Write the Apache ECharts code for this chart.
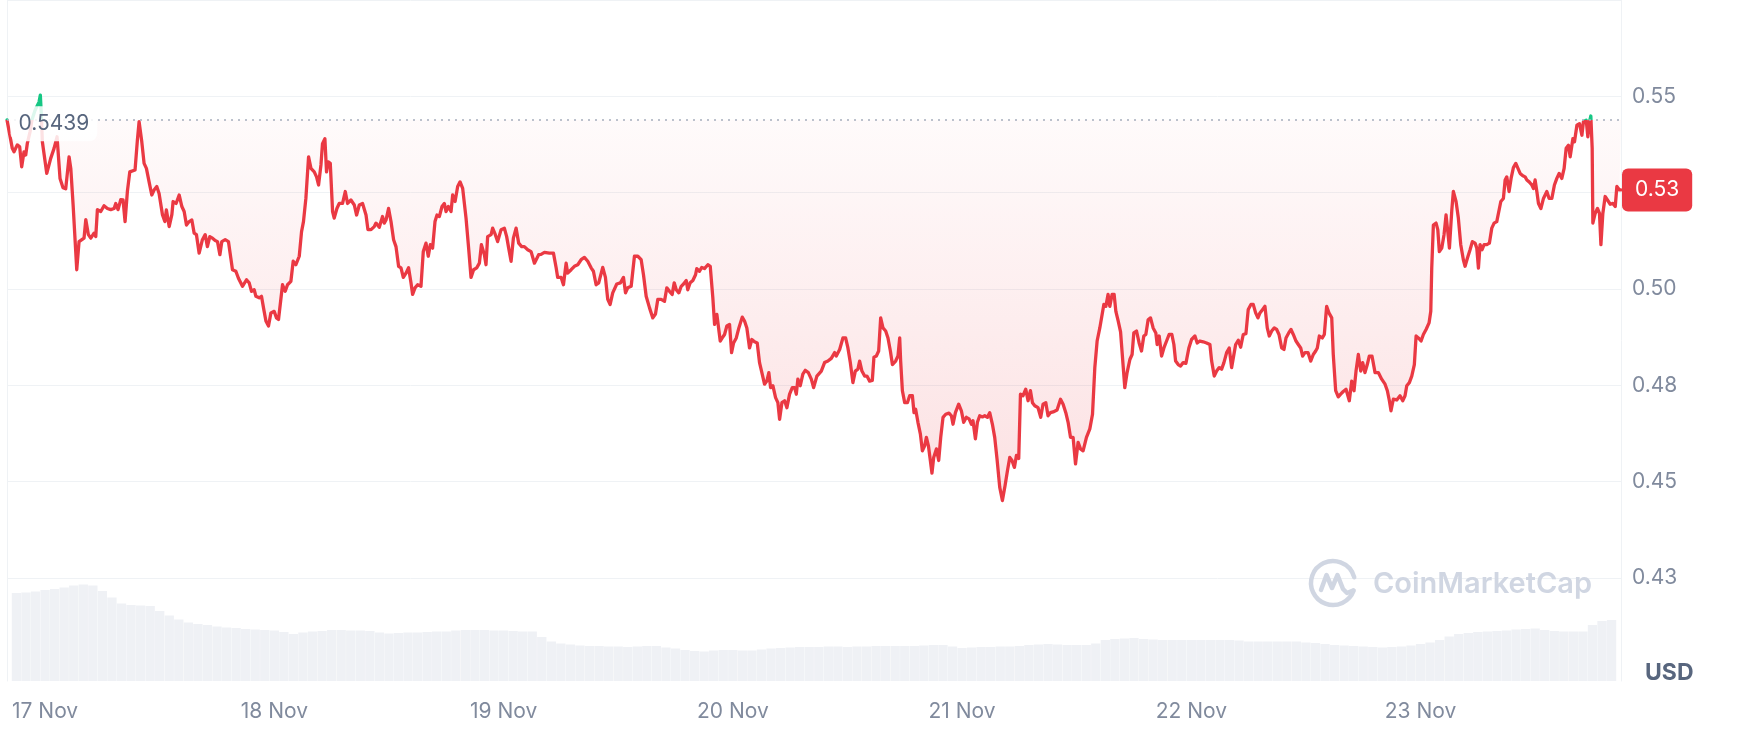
<!DOCTYPE html>
<html><head><meta charset="utf-8">
<script src="https://cdn.jsdelivr.net/npm/echarts@6/dist/echarts.min.js"></script>
<style>html,body{margin:0;padding:0;background:#fff;}#chart{width:1741px;height:756px;}</style>
</head><body><div id="chart"></div>
<script>
// ---- data ----
const startTime = [2023, 10, 16, 20, 30]; // 16 Nov 20:30 (local)
const hoursFromStart = [0,0.55,0.73,1.07,1.32,1.53,1.77,1.95,2.11,2.4,2.6,2.92,3.33,3.47,3.57,3.68,4.14,4.55,4.9,5.21,5.52,5.83,6.11,6.46,6.64,6.88,7.26,7.5,8.02,8.2,8.47,8.72,9.06,9.24,9.41,9.76,10.1,10.45,10.8,11.15,11.32,11.56,11.84,12.08,12.29,12.53,12.78,13.33,13.57,13.75,14.03,14.27,14.51,14.79,15.07,15.31,15.59,15.83,16.18,16.43,16.59,16.88,17.16,17.29,17.6,17.92,18.2,18.44,18.68,18.96,19.24,19.48,19.72,20,20.34,20.63,20.86,21.11,21.39,21.67,21.91,22.16,22.36,22.71,23.05,23.3,23.47,23.82,24.09,24.51,24.93,25.21,25.45,25.73,25.91,26.25,26.49,26.7,26.95,27.22,27.47,27.81,28.05,28.26,28.68,28.96,29.2,29.55,29.79,30.07,30.42,30.66,30.86,31.11,31.39,31.64,31.98,32.22,32.43,32.68,32.84,33.09,33.26,33.44,33.65,33.89,34.06,34.34,34.58,34.93,35.21,35.45,35.8,36.15,36.39,36.67,37.01,37.37,37.57,37.89,38.23,38.41,38.75,39.09,39.27,39.45,39.72,39.97,40.24,40.49,40.76,41.01,41.25,41.53,41.8,42.05,42.22,42.47,42.74,43.09,43.33,43.61,43.85,44.06,44.3,44.55,44.76,45,45.28,45.52,45.7,45.94,46.22,46.39,46.64,46.91,47.16,47.43,47.78,48.05,48.3,48.57,48.89,49.17,49.38,49.69,49.86,50.03,50.39,50.55,50.83,51.07,51.43,51.77,52.01,52.22,52.47,52.71,52.99,53.26,53.57,53.85,54.2,54.55,54.9,55.07,55.34,55.59,55.94,56.11,56.46,56.88,57.16,57.32,57.68,57.92,58.2,58.36,58.72,59.06,59.41,59.76,60.1,60.45,60.8,61.04,61.32,61.59,62.01,62.29,62.53,62.78,63.05,63.47,63.85,64.17,64.38,64.61,64.97,65.31,65.66,66.01,66.25,66.53,66.88,67.22,67.5,67.74,68.09,68.44,68.68,68.96,69.24,69.45,69.66,69.93,70.18,70.42,70.7,70.86,71.11,71.39,71.67,71.8,72.08,72.32,72.6,72.95,73.2,73.47,73.65,73.89,74.09,74.24,74.45,74.69,74.93,75.21,75.42,75.63,75.91,76.18,76.53,76.77,77.01,77.29,77.53,77.81,78.09,78.33,78.61,78.85,79.09,79.3,79.48,79.72,80,80.24,80.42,80.66,80.94,81.18,81.46,81.74,81.98,82.16,82.32,82.57,82.84,83.09,83.41,83.72,83.96,84.3,84.76,85.1,85.45,85.8,86.15,86.32,86.67,87.01,87.29,87.53,87.78,88.05,88.3,88.57,88.75,88.99,89.27,89.51,89.79,90.07,90.24,90.49,90.73,90.94,91.18,91.46,91.7,91.95,92.16,92.5,92.74,92.92,93.02,93.2,93.44,93.72,93.96,94.24,94.41,94.58,94.82,95.07,95.28,95.52,95.7,95.91,96.11,96.28,96.46,96.74,96.98,97.19,97.43,97.71,98.05,98.3,98.47,98.72,99.06,99.34,99.58,99.86,100.14,100.39,100.55,100.8,101.01,101.25,101.53,101.77,102.05,102.29,102.57,102.81,103.05,103.33,103.61,103.89,104.14,104.38,104.61,104.86,105.07,105.31,105.49,105.76,106.04,106.28,106.53,106.74,106.98,107.32,107.6,107.84,108.13,108.36,108.61,108.89,109.3,109.66,109.93,110.21,110.45,110.7,110.97,111.22,111.49,111.74,112.01,112.36,112.71,112.99,113.23,113.47,113.75,113.93,114.17,114.38,114.61,114.79,115.03,115.24,115.42,115.66,115.91,116.11,116.35,116.59,116.88,117.11,117.29,117.57,117.84,118.09,118.33,118.54,118.78,119.03,119.3,119.58,119.72,119.93,120.18,120.42,120.7,120.97,121.25,121.46,121.64,121.91,122.16,122.43,122.71,123.02,123.3,123.65,123.89,124.17,124.51,124.86,125.21,125.39,125.66,125.91,126.18,126.43,126.67,126.95,127.22,127.47,127.64,127.89,128.16,128.41,128.68,128.96,129.2,129.48,129.72,129.97,130.21,130.42,130.7,130.94,131.18,131.39,131.64,131.91,132.16,132.4,132.68,132.92,133.13,133.41,133.65,133.89,134.17,134.41,134.66,134.86,135.1,135.42,135.7,135.97,136.22,136.39,136.6,136.91,137.12,137.36,137.6,137.89,138.05,138.3,138.57,138.82,139.09,139.38,139.55,139.72,139.97,140.21,140.42,140.66,140.91,141.11,141.35,141.59,141.8,142.08,142.4,142.74,143.09,143.44,143.68,143.89,144.06,144.3,144.66,145,145.28,145.52,145.7,145.97,146.22,146.49,146.67,146.91,147.19,147.43,147.71,148.02,148.2,148.3,148.47,148.75,148.93,149.09,149.34,149.58,149.79,149.97,150.14,150.39,150.55,150.83,151.07,151.32,151.59,151.77,152.01,152.29,152.53,152.81,152.99,153.16,153.33,153.54,153.75,154.03,154.3,154.55,154.79,155.07,155.24,155.49,155.76,155.94,156.11,156.35,156.56,156.8,157.05,157.22,157.5,157.78,158.02,158.2,158.44,158.72,158.89,159.06,159.24,159.41,159.66,159.93,160.28,160.52,160.8,161.07,161.32,161.56,161.84,162.08,162.29,162.53,162.71,162.99,163.16,163.41,163.68,163.93,164.09,164.38,164.55,164.72,164.86,165,165.07,165.31,165.55,165.76,165.91,166.11,166.35,166.59,166.88,167.16,167.4,167.57,167.84,168];
const prices = [0.5439,0.5365,0.5356,0.5374,0.5369,0.5317,0.5356,0.5348,0.5377,0.5408,0.5439,0.5464,0.5485,0.5503,0.5454,0.5382,0.5300,0.5339,0.5365,0.5395,0.5287,0.5263,0.5260,0.5343,0.5313,0.5219,0.5050,0.5123,0.5132,0.5180,0.5141,0.5132,0.5145,0.5136,0.5206,0.5201,0.5216,0.5209,0.5206,0.5209,0.5222,0.5206,0.5232,0.5231,0.5175,0.5253,0.5304,0.5309,0.5386,0.5434,0.5382,0.5326,0.5313,0.5278,0.5244,0.5257,0.5266,0.5248,0.5193,0.5175,0.5205,0.5162,0.5193,0.5227,0.5222,0.5244,0.5214,0.5201,0.5166,0.5175,0.5179,0.5145,0.5141,0.5093,0.5128,0.5141,0.5110,0.5136,0.5132,0.5126,0.5123,0.5089,0.5123,0.5128,0.5123,0.5080,0.5050,0.5046,0.5028,0.5007,0.5024,0.5016,0.4994,0.4998,0.4981,0.4977,0.4981,0.4951,0.4917,0.4904,0.4938,0.4942,0.4925,0.4921,0.5011,0.4994,0.5011,0.5020,0.5072,0.5063,0.5085,0.5149,0.5175,0.5235,0.5343,0.5313,0.5304,0.5291,0.5270,0.5322,0.5377,0.5390,0.5304,0.5330,0.5326,0.5201,0.5184,0.5209,0.5222,0.5222,0.5253,0.5222,0.5231,0.5218,0.5192,0.5218,0.5222,0.5192,0.5154,0.5154,0.5162,0.5171,0.5160,0.5188,0.5171,0.5179,0.5209,0.5175,0.5128,0.5110,0.5059,0.5055,0.5030,0.5041,0.5055,0.5016,0.4986,0.5003,0.5011,0.5007,0.5097,0.5119,0.5085,0.5115,0.5106,0.5175,0.5192,0.5188,0.5214,0.5222,0.5201,0.5214,0.5201,0.5244,0.5227,0.5266,0.5278,0.5261,0.5184,0.5106,0.5030,0.5050,0.5055,0.5067,0.5115,0.5089,0.5063,0.5136,0.5141,0.5158,0.5141,0.5123,0.5154,0.5158,0.5136,0.5106,0.5072,0.5132,0.5158,0.5119,0.5110,0.5110,0.5102,0.5097,0.5067,0.5063,0.5089,0.5090,0.5095,0.5097,0.5093,0.5093,0.5055,0.5030,0.5030,0.5011,0.5067,0.5041,0.5050,0.5059,0.5063,0.5076,0.5082,0.5072,0.5055,0.5046,0.5011,0.5016,0.5056,0.5030,0.4973,0.4960,0.4990,0.5013,0.5016,0.5030,0.4990,0.5003,0.5007,0.5085,0.5085,0.5076,0.5037,0.4981,0.4951,0.4925,0.4935,0.4973,0.4973,0.4968,0.5003,0.4994,0.4986,0.5016,0.4998,0.4990,0.5007,0.5013,0.5022,0.4998,0.5016,0.5022,0.5037,0.5053,0.5046,0.5056,0.5053,0.5063,0.5059,0.4977,0.4908,0.4934,0.4929,0.4865,0.4873,0.4882,0.4904,0.4908,0.4835,0.4860,0.4873,0.4899,0.4927,0.4917,0.4899,0.4847,0.4869,0.4863,0.4860,0.4809,0.4779,0.4753,0.4761,0.4783,0.4744,0.4749,0.4718,0.4705,0.4662,0.4705,0.4710,0.4692,0.4727,0.4744,0.4744,0.4727,0.4766,0.4749,0.4779,0.4789,0.4783,0.4766,0.4744,0.4774,0.4787,0.4809,0.4813,0.4820,0.4835,0.4826,0.4843,0.4873,0.4873,0.4847,0.4809,0.4757,0.4787,0.4792,0.4813,0.4787,0.4774,0.4774,0.4761,0.4763,0.4823,0.4826,0.4839,0.4925,0.4899,0.4891,0.4873,0.4839,0.4804,0.4813,0.4826,0.4873,0.4813,0.4736,0.4705,0.4705,0.4723,0.4723,0.4679,0.4688,0.4654,0.4624,0.4580,0.4593,0.4615,0.4593,0.4555,0.4522,0.4563,0.4585,0.4555,0.4615,0.4667,0.4675,0.4678,0.4671,0.4649,0.4679,0.4701,0.4684,0.4654,0.4667,0.4663,0.4649,0.4658,0.4611,0.4654,0.4671,0.4668,0.4671,0.4667,0.4679,0.4649,0.4615,0.4559,0.4486,0.4451,0.4490,0.4529,0.4563,0.4555,0.4537,0.4568,0.4560,0.4727,0.4723,0.4740,0.4710,0.4736,0.4705,0.4697,0.4692,0.4667,0.4701,0.4705,0.4671,0.4679,0.4681,0.4686,0.4714,0.4701,0.4679,0.4654,0.4615,0.4615,0.4546,0.4602,0.4585,0.4580,0.4615,0.4637,0.4675,0.4796,0.4865,0.4899,0.4904,0.4960,0.4955,0.4986,0.4955,0.4986,0.4986,0.4942,0.4917,0.4889,0.4886,0.4744,0.4783,0.4817,0.4830,0.4886,0.4891,0.4860,0.4839,0.4878,0.4882,0.4920,0.4925,0.4899,0.4886,0.4856,0.4878,0.4826,0.4847,0.4865,0.4882,0.4882,0.4856,0.4813,0.4804,0.4800,0.4809,0.4807,0.4847,0.4869,0.4878,0.4860,0.4865,0.4863,0.4860,0.4856,0.4813,0.4774,0.4787,0.4796,0.4792,0.4809,0.4835,0.4847,0.4796,0.4792,0.4856,0.4867,0.4849,0.4882,0.4884,0.4947,0.4960,0.4960,0.4938,0.4925,0.4938,0.4947,0.4955,0.4899,0.4878,0.4891,0.4899,0.4895,0.4882,0.4847,0.4843,0.4873,0.4886,0.4895,0.4882,0.4865,0.4856,0.4847,0.4826,0.4835,0.4835,0.4813,0.4830,0.4839,0.4847,0.4878,0.4873,0.4882,0.4955,0.4938,0.4925,0.4830,0.4736,0.4720,0.4727,0.4734,0.4740,0.4736,0.4710,0.4761,0.4736,0.4787,0.4830,0.4787,0.4809,0.4783,0.4804,0.4826,0.4826,0.4783,0.4783,0.4766,0.4753,0.4736,0.4710,0.4684,0.4714,0.4712,0.4723,0.4710,0.4723,0.4749,0.4757,0.4774,0.4804,0.4878,0.4873,0.4865,0.4882,0.4895,0.4912,0.4942,0.5054,0.5166,0.5171,0.5154,0.5097,0.5106,0.5141,0.5192,0.5149,0.5106,0.5205,0.5253,0.5227,0.5184,0.5115,0.5076,0.5059,0.5080,0.5102,0.5123,0.5119,0.5106,0.5054,0.5115,0.5102,0.5115,0.5115,0.5119,0.5158,0.5171,0.5175,0.5179,0.5227,0.5235,0.5283,0.5291,0.5253,0.5287,0.5315,0.5326,0.5328,0.5300,0.5294,0.5291,0.5283,0.5278,0.5270,0.5261,0.5283,0.5253,0.5222,0.5209,0.5235,0.5253,0.5235,0.5235,0.5270,0.5287,0.5300,0.5287,0.5313,0.5365,0.5373,0.5343,0.5390,0.5382,0.5425,0.5429,0.5399,0.5434,0.5438,0.5395,0.5434,0.5449,0.5365,0.5171,0.5196,0.5209,0.5196,0.5115,0.5196,0.5240,0.5231,0.5220,0.5222,0.5214,0.5266,0.5257,0.5257];
// hourly 24h-volume (arbitrary units), one bar per hour from the start
const volumes = [88,88.5,89.5,91,92,93.5,95.5,96.5,95.5,90,
83.5,77.5,76,75.5,75,70,65.5,61.5,58.5,57,
56,54.5,53.5,53,52,51.5,51,50.5,49,47,
48.5,49.5,50,51,51,50.5,50.5,50,48.5,47.5,
48,48.5,48.5,49,49.5,49.5,50.5,51,51,51,
50.5,50.5,50,49.5,49.5,44,39.5,37.5,36.5,35.5,
35,35,34.5,34.5,34,34.5,35,35,33.5,32.5,
31,30,29.5,30.5,31,31,30.5,30.5,31.5,32.5,
33,33.5,34,34,34,34.5,34.5,34,34.5,34.5,
35,35,35,35,35,35.5,36,36,34.5,33,
33.5,34,34,34.5,34.5,35,36,36.5,37,36.5,
36,36,36,37.5,41,42,42.5,43,42,41.5,
41,41,41,41,41,41,41,41,40.5,39.5,
39.5,39.5,39.5,39.5,39.5,38.5,38,37,36,35.5,
35,34.5,34,33.5,34,34.5,35.5,37,38.5,41,
44.5,47,48,49,49.5,50,50.5,51.5,52,52.5,
51,50,49.5,49.5,49.5,56,60,61];
const openPrice = 0.5439;
const yTickValues = [0.425, 0.45, 0.475, 0.5, 0.525, 0.55];
const yTickLabels = ['0.43', '0.45', '0.48', '0.50', '0.53', '0.55'];
const monthNames = ['Jan','Feb','Mar','Apr','May','Jun','Jul','Aug','Sep','Oct','Nov','Dec'];
const currencyLabel = 'USD';
const watermarkText = 'CoinMarketCap';

// ---- build ----
const HOUR = 3600000;
const t0 = new Date(startTime[0], startTime[1], startTime[2], startTime[3], startTime[4]).getTime();
const priceData = hoursFromStart.map((h, i) => [t0 + h * HOUR, prices[i]]);
const volData = volumes.map((v, i) => [t0 + (i + 0.5) * HOUR, v]);
const tMin = t0, tMax = t0 + 168 * HOUR;
const lastPrice = prices[prices.length - 1];
const FONT = 'Inter, "Noto Sans", sans-serif';
const axisGray = '#808a9d';
const gridGray = '#eff2f5';
const wmColor = '#d0d6e2';
const LX = 1333, LY = 583; // watermark logo centre

const chart = echarts.init(document.getElementById('chart'), null, {renderer: 'canvas'});
chart.setOption({
  animation: false,
  backgroundColor: '#ffffff',
  textStyle: {fontFamily: FONT},
  grid: [
    {left: 7, right: 120, top: -2.45, bottom: 178},
    {left: 7, right: 120, top: 0, bottom: 75}
  ],
  xAxis: [
    {type: 'time', gridIndex: 0, min: tMin, max: tMax, show: false},
    {type: 'time', gridIndex: 1, min: tMin, max: tMax,
     minInterval: 24 * HOUR, maxInterval: 24 * HOUR,
     axisLine: {show: false}, axisTick: {show: false}, splitLine: {show: false},
     axisLabel: {color: axisGray, fontSize: 21, margin: 20, fontFamily: FONT,
       formatter: v => { const d = new Date(v); return d.getDate() + ' ' + monthNames[d.getMonth()]; }}}
  ],
  yAxis: [
    {type: 'value', gridIndex: 0, position: 'right', min: 0.425, max: 0.575, interval: 0.025,
     axisLine: {show: false}, axisTick: {show: false},
     splitLine: {show: true, lineStyle: {color: gridGray, width: 1}},
     axisLabel: {color: axisGray, fontSize: 21, margin: 11, fontFamily: FONT,
       formatter: v => { const j = yTickValues.findIndex(t => Math.abs(t - v) < 1e-6); return j >= 0 ? yTickLabels[j] : ''; }}},
    {type: 'value', gridIndex: 1, position: 'left', min: 0, max: 681,
     axisLine: {show: true, lineStyle: {color: gridGray, width: 1}}, axisTick: {show: false},
     axisLabel: {show: false}, splitLine: {show: false}},
    {type: 'value', gridIndex: 1, position: 'right', min: 0, max: 681,
     axisLine: {show: true, lineStyle: {color: gridGray, width: 1}}, axisTick: {show: false},
     axisLabel: {show: false}, splitLine: {show: false}}
  ],
  visualMap: {
    type: 'piecewise', show: false, seriesIndex: 1, dimension: 1,
    pieces: [{gte: 0, lte: openPrice, color: '#ea3943'}, {gt: openPrice, lte: 1, color: '#16c784'}]
  },
  series: [
    {type: 'bar', name: 'Volume', xAxisIndex: 1, yAxisIndex: 1, data: volData,
     barWidth: 9.3, silent: true, z: 1, itemStyle: {color: '#eff1f5'}},
    {type: 'line', name: 'Price', xAxisIndex: 0, yAxisIndex: 0, data: priceData,
     showSymbol: false, symbol: 'none', z: 3, silent: true,
     lineStyle: {width: 3.3, cap: 'round', join: 'round'},
     areaStyle: {origin: openPrice, color: {type: 'linear', x: 0, y: 0, x2: 0, y2: 1, colorStops: [
       {offset: 0, color: 'rgba(234,57,67,0.02)'}, {offset: 1, color: 'rgba(234,57,67,0.22)'}]}},
     markLine: {silent: true, symbol: ['none', 'none'], animation: false, precision: 6,
       data: [
         {yAxis: openPrice, lineStyle: {type: [2, 5], color: '#a6aebd', width: 1.6, opacity: 1}, label: {show: false}},
         {yAxis: lastPrice, lineStyle: {color: 'rgba(0,0,0,0)', width: 0.01, opacity: 1}, label: {show: true, position: 'end', distance: 1, opacity: 1,
           formatter: lastPrice.toFixed(2), color: '#ffffff', backgroundColor: '#ea3943',
           padding: [11, 13, 11, 13], borderRadius: 6, fontSize: 21, fontFamily: FONT}}
       ]},
     markPoint: {silent: true, z: 10, animation: false,
       data: [{coord: [t0, openPrice], symbol: 'circle', symbolSize: 1, itemStyle: {color: 'rgba(0,0,0,0)'},
         label: {show: true, position: 'right', distance: 3, offset: [0, 4], formatter: String(openPrice),
           color: '#58667e', fontSize: 21, fontFamily: FONT,
           backgroundColor: 'rgba(255,255,255,0.85)', padding: [6, 8, 8, 8], borderRadius: 8}}]}
    }
  ],
  graphic: [
    {type: 'arc', z: 5, silent: true,
     shape: {cx: LX, cy: LY, r: 22, startAngle: 0.35, endAngle: 6.02, clockwise: true},
     style: {fill: null, stroke: wmColor, lineWidth: 4.5, lineCap: 'round'}},
    {type: 'polyline', z: 5, silent: true,
     shape: {points: [[LX - 12, LY + 7], [LX - 6.5, LY - 8], [LX - 1, LY + 5], [LX + 4.5, LY - 8], [LX + 10, LY + 6], [LX + 14, LY + 10], [LX + 20, LY + 7.5]]},
     style: {fill: null, stroke: wmColor, lineWidth: 4.5, lineCap: 'round', lineJoin: 'round'}},
    {type: 'text', x: 1373, y: 584, z: 5, silent: true,
     style: {text: watermarkText, fill: wmColor, font: '600 29px Inter', verticalAlign: 'middle'}},
    {type: 'text', x: 1645, y: 673, z: 5, silent: true,
     style: {text: currencyLabel, fill: '#58667e', font: 'bold 23px Inter', verticalAlign: 'middle'}}
  ]
});
</script></body></html>
